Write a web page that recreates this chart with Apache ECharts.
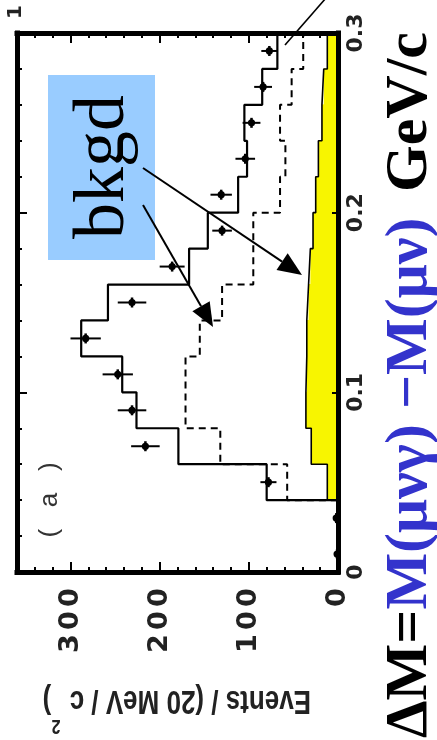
<!DOCTYPE html>
<html>
<head>
<meta charset="utf-8">
<script src="https://cdn.jsdelivr.net/npm/echarts@6/dist/echarts.min.js"></script>
<style>
  html, body { margin: 0; padding: 0; background: #fff; }
  #chart { width: 437px; height: 740px; }
</style>
</head>
<body>
<div id="chart"></div>
<script>
// ΔM bin edges in GeV/c^2 (20 MeV bins)
const binEdges = [0, 0.02, 0.04, 0.06, 0.08, 0.10, 0.12, 0.14, 0.16, 0.18, 0.20, 0.22, 0.24, 0.26, 0.28, 0.30];
// measured events per bin and their errors
const dataCounts = [1, 2, 78, 216, 231, 247, 283, 231, 186, 130, 131, 104, 97, 84, 77];
const dataErrors = [1, 1.5, 9, 16, 16, 17, 17, 16, 14, 11, 12, 11, 10, 10, 9];
// signal + background expectation (solid histogram)
const totalMC = [0, 0, 80, 179, 226, 242, 288, 258, 167, 146, 112, 102, 105, 85, 68];
// background expectation (dashed histogram)
const bkgdMC = [0, 0, 57, 132, 171, 171, 155, 130, 95, 95, 65, 59, 65, 52, 39];
// non-radiative background (filled histogram)
const bkgdFill = [0, 0, 12, 30, 36, 35, 35, 33, 31, 28, 25, 22, 18, 16, 12];
// labelled ticks
const eventTicks = [0, 100, 200, 300];
const deltaMTicks = [0, 0.1, 0.2, 0.3];

function stepPoints(vals) {
  const pts = [];
  vals.forEach((v, i) => {
    pts.push([v, binEdges[i]], [v, binEdges[i + 1]]);
  });
  return pts;
}

const frameLine = { show: true, onZero: false, lineStyle: { color: '#000', width: 5, cap: 'square' } };
const hiddenLine = { show: false, onZero: false };

function eventsAxis(position, interval, tickLen, withFrame, withLabels) {
  return {
    type: 'value', inverse: true, min: 0, max: 360, interval: interval,
    position: position, z: 10,
    axisLine: withFrame ? frameLine : hiddenLine,
    axisTick: { show: true, inside: true, length: tickLen, lineStyle: { color: '#000', width: 2 } },
    splitLine: { show: false },
    axisLabel: withLabels ? {
      show: true, rotate: 90, margin: 14, color: '#222',
      formatter: v => eventTicks.includes(v)
        ? String(v).split('').map(c => '{d|' + c + '}').join('') : '',
      rich: {
        d: { width: 23, align: 'center', fontSize: 27, fontWeight: 'bold',
             fontFamily: '"DejaVu Sans"', color: '#222' }
      }
    } : { show: false }
  };
}

function massAxis(position, interval, tickLen, withFrame, withLabels) {
  return {
    type: 'value', min: 0, max: 0.3, interval: interval,
    position: position, z: 10,
    axisLine: withFrame ? frameLine : hiddenLine,
    axisTick: { show: true, inside: true, length: tickLen, lineStyle: { color: '#000', width: 2 } },
    splitLine: { show: false },
    axisLabel: withLabels ? {
      show: true, rotate: 90, margin: 7, color: '#222',
      fontSize: 22, fontWeight: 'bold', fontFamily: '"DejaVu Sans"',
      formatter: v => {
        const hit = deltaMTicks.find(t => Math.abs(t - v) < 1e-6);
        if (hit === undefined) return '';
        return hit === 0 ? '0' : hit.toFixed(1);
      }
    } : { show: false }
  };
}

function arrow(x1, y1, x2, y2, headLen, headHalf) {
  const dx = x2 - x1, dy = y2 - y1;
  const len = Math.sqrt(dx * dx + dy * dy);
  const ux = dx / len, uy = dy / len;
  const bx = x2 - ux * headLen, by = y2 - uy * headLen;
  return [
    { type: 'line', shape: { x1: x1, y1: y1, x2: bx, y2: by },
      style: { stroke: '#000', lineWidth: 2 } },
    { type: 'polygon',
      shape: { points: [[x2, y2], [bx - uy * headHalf, by + ux * headHalf], [bx + uy * headHalf, by - ux * headHalf]] },
      style: { fill: '#000' } }
  ];
}

// ΔM definition, set as three runs laid end to end along a vertical baseline
const defFont = 'bold 60px "Liberation Serif"';
const measureCtx = document.createElement('canvas').getContext('2d');
measureCtx.font = defFont;
const defPart1 = 'ΔM=';
const defPart2 = 'M(μνγ) −M(μν)';
const defPart3 = 'GeV/c';
const defStart = 738;
const defEnd2 = defStart - measureCtx.measureText(defPart1).width - measureCtx.measureText(defPart2).width;

function defText(text, y, color) {
  return { type: 'text', x: 410, y: y, rotation: Math.PI / 2,
    style: { text: text, font: defFont, fill: color, align: 'left', verticalAlign: 'middle' } };
}

const chart = echarts.init(document.getElementById('chart'), null, { renderer: 'canvas' });

chart.setOption({
  backgroundColor: '#fff',
  animation: false,
  grid: { left: 17, right: 99, top: 33, bottom: 168, show: false },
  xAxis: [
    eventsAxis('bottom', 20, 5, true, true),
    eventsAxis('bottom', 100, 10, false, false),
    eventsAxis('top', 20, 5, true, false),
    eventsAxis('top', 100, 10, false, false)
  ],
  yAxis: [
    massAxis('left', 0.02, 5, true, false),
    massAxis('left', 0.1, 10, false, false),
    massAxis('right', 0.1, 6, true, true)
  ],
  series: [
    {
      type: 'custom', name: 'bkgd fill', xAxisIndex: 0, yAxisIndex: 0, z: 1,
      data: bkgdFill.map((v, i) => [v, i]),
      renderItem(params, api) {
        const i = api.value(1);
        const p0 = api.coord([0, binEdges[i]]);
        const p1 = api.coord([api.value(0), binEdges[i + 1]]);
        return {
          type: 'rect',
          shape: { x: Math.min(p0[0], p1[0]), y: Math.min(p0[1], p1[1]) - 0.5,
                   width: Math.abs(p1[0] - p0[0]), height: Math.abs(p1[1] - p0[1]) + 1 },
          style: { fill: '#f8f500' }
        };
      }
    },
    {
      type: 'line', name: 'bkgd fill edge', xAxisIndex: 0, yAxisIndex: 0, z: 2,
      data: stepPoints(bkgdFill), showSymbol: false, symbol: 'none',
      lineStyle: { color: '#000', width: 1.6 }
    },
    {
      type: 'line', name: 'bkgd', xAxisIndex: 0, yAxisIndex: 0, z: 3,
      data: stepPoints(bkgdMC), showSymbol: false, symbol: 'none',
      lineStyle: { color: '#000', width: 2, type: [7, 5] }
    },
    {
      type: 'line', name: 'total', xAxisIndex: 0, yAxisIndex: 0, z: 4,
      data: stepPoints(totalMC), showSymbol: false, symbol: 'none',
      lineStyle: { color: '#000', width: 2.2 }
    },
    {
      type: 'custom', name: 'data', xAxisIndex: 0, yAxisIndex: 0, z: 5,
      data: dataCounts.map((v, i) => [v, i, dataErrors[i]]),
      renderItem(params, api) {
        const i = api.value(1);
        const v = api.value(0), e = api.value(2);
        const yc = (binEdges[i] + binEdges[i + 1]) / 2;
        const c = api.coord([v, yc]);
        const l = api.coord([v - e, yc]);
        const r = api.coord([v + e, yc]);
        return {
          type: 'group',
          children: [
            { type: 'line', shape: { x1: l[0], y1: c[1], x2: r[0], y2: c[1] },
              style: { stroke: '#000', lineWidth: 2 } },
            { type: 'line', shape: { x1: c[0], y1: c[1] - 5, x2: c[0], y2: c[1] + 5 },
              style: { stroke: '#000', lineWidth: 2.5 } },
            { type: 'circle', shape: { cx: c[0], cy: c[1], r: 3.6 },
              style: { fill: '#000' } }
          ]
        };
      }
    }
  ],
  graphic: {
    z: 100,
    elements: [
      { type: 'text', x: 16, y: 12, rotation: Math.PI / 2,
        style: { text: '1', fontSize: 20, fontWeight: 'bold', fontFamily: '"DejaVu Sans"',
                 fill: '#222', align: 'center', verticalAlign: 'middle' } },
      { type: 'text', x: 50, y: 500, rotation: Math.PI / 2,
        style: { text: '(   a   )', fontSize: 26, fontFamily: '"Liberation Sans"',
                 fill: '#333', align: 'center', verticalAlign: 'middle' } },
      // axis title, printed upside down
      { type: 'text', x: 311, y: 700, rotation: Math.PI, scaleY: 1.3,
        style: { text: 'Events / (20 MeV / c', fontSize: 26, fontWeight: 'bold',
                 fontFamily: '"Liberation Sans"', fill: '#222', align: 'left', verticalAlign: 'middle' } },
      { type: 'text', x: 56, y: 726, rotation: Math.PI, scaleY: 1.3,
        style: { text: '2', fontSize: 16, fontWeight: 'bold', fontFamily: '"Liberation Sans"',
                 fill: '#222', align: 'center', verticalAlign: 'middle' } },
      { type: 'text', x: 47, y: 700, rotation: Math.PI, scaleY: 1.3,
        style: { text: ')', fontSize: 26, fontWeight: 'bold', fontFamily: '"Liberation Sans"',
                 fill: '#222', align: 'center', verticalAlign: 'middle' } },
      // background callout
      { type: 'rect', shape: { x: 48, y: 75, width: 107, height: 185 },
        style: { fill: '#99ccff' } },
      { type: 'text', x: 104, y: 167, rotation: Math.PI / 2,
        style: { text: 'bkgd', fontSize: 72, fontFamily: '"Liberation Serif"',
                 fill: '#000', align: 'center', verticalAlign: 'middle' } },
      ...arrow(143, 168, 302, 275, 24, 10),
      ...arrow(143, 205, 213, 327, 24, 10),
      { type: 'line', shape: { x1: 326, y1: -2, x2: 285, y2: 45 },
        style: { stroke: '#000', lineWidth: 1.6 } },
      defText(defPart1, defStart, '#000'),
      defText(defPart2, defStart - measureCtx.measureText(defPart1).width, '#3333cc'),
      defText(defPart3, Math.min(192, defEnd2 - 22), '#000')
    ]
  }
});
</script>
</body>
</html>
